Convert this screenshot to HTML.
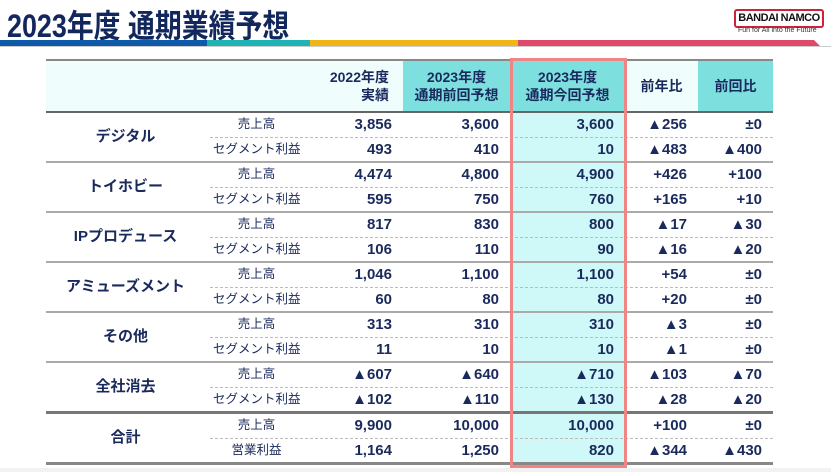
<!DOCTYPE html>
<html><head><meta charset="utf-8">
<style>
body{margin:0;width:831px;height:472px;background:#fff;position:relative;overflow:hidden;font-family:"Liberation Sans","Noto Sans CJK JP",sans-serif;color:#1b2a5c}
.title{position:absolute;left:7px;top:1px;font-size:32px;font-weight:bold;color:#12285c;white-space:nowrap;transform:scaleX(0.84);transform-origin:0 0}
.strip{position:absolute;top:40px;height:6px}
.logo{position:absolute;left:734px;top:9px;width:86px;height:15px;border:2px solid #d0203a;border-radius:3px;font-size:11px;font-weight:bold;color:#111;text-align:center;line-height:15px;letter-spacing:-0.5px}
.tag{position:absolute;left:738px;top:27px;font-size:7px;color:#333}
.bg{position:absolute}
.r{position:absolute;left:46px;width:727px;height:25px;display:flex}
.r div{height:25px;line-height:25px;font-size:15px;font-weight:bold;text-align:right;padding-right:11px;box-sizing:border-box;white-space:nowrap}
.r .s{text-align:center;padding:0 0 0 8px;font-size:12.5px;font-weight:normal}
.g{position:absolute;left:46px;width:159px;height:50px;line-height:50px;text-align:center;font-size:15px;font-weight:bold}
.hl{position:absolute;left:46px;width:727px;height:2px;background:#aaa}
.dl{position:absolute;left:210px;width:563px;height:0;border-top:1px dashed #bbb}
.h{position:absolute;top:61px;height:50px;display:flex;align-items:center;justify-content:center;text-align:center;font-size:14px;font-weight:bold;line-height:18px}
.box{position:absolute;left:510px;top:58px;width:111px;height:404px;border:3px solid #f08585}
.bot{position:absolute;left:0;top:468px;width:831px;height:4px;background:#f2f2f2}
</style></head><body>
<div class="title">2023年度 通期業績予想</div>
<div class="strip" style="left:0;width:207px;background:#0f5aa8"></div>
<div class="strip" style="left:207px;width:103px;background:#1fb3b5"></div>
<div class="strip" style="left:310px;width:208px;background:#f0b516"></div>
<div class="strip" style="left:518px;width:302px;background:#dd4a6a;clip-path:polygon(0 0,98% 0,100% 100%,0 100%)"></div>
<div class="strip" style="left:0;top:46px;width:831px;height:1px;background:#ccc"></div>
<div class="logo">BANDAI NAMCO</div>
<div class="tag">Fun for All into the Future</div>

<div class="bg" style="left:46px;top:61px;width:357px;height:50px;background:#effdfd"></div>
<div class="bg" style="left:403px;top:61px;width:107px;height:50px;background:#7edfdf"></div>
<div class="bg" style="left:510px;top:61px;width:115px;height:50px;background:#7edfdf"></div>
<div class="bg" style="left:625px;top:61px;width:73px;height:50px;background:#effdfd"></div>
<div class="bg" style="left:698px;top:61px;width:75px;height:50px;background:#7edfdf"></div>
<div class="bg" style="left:510px;top:111px;width:115px;height:352px;background:#cff9f9"></div>
<div class="hl" style="top:59px;background:#888"></div>

<div class="h" style="left:300px;width:103px;justify-content:flex-end;padding-right:14px;box-sizing:border-box;text-align:right">2022年度<br>実績</div>
<div class="h" style="left:403px;width:107px">2023年度<br>通期前回予想</div>
<div class="h" style="left:510px;width:115px">2023年度<br>通期今回予想</div>
<div class="h" style="left:625px;width:73px">前年比</div>
<div class="h" style="left:698px;width:75px">前回比</div>

<div class="hl" style="top:111px;background:#666"></div>
<div class="hl" style="top:161px"></div>
<div class="hl" style="top:211px"></div>
<div class="hl" style="top:261px"></div>
<div class="hl" style="top:311px"></div>
<div class="hl" style="top:361px"></div>
<div class="hl" style="top:411px;height:3px;background:#777"></div>
<div class="hl" style="top:462px;height:3px;background:#888"></div>
<div class="dl" style="top:137px"></div>
<div class="dl" style="top:187px"></div>
<div class="dl" style="top:237px"></div>
<div class="dl" style="top:287px"></div>
<div class="dl" style="top:337px"></div>
<div class="dl" style="top:387px"></div>
<div class="dl" style="top:438px"></div>

<div class="g" style="top:112px">デジタル</div>
<div class="g" style="top:162px">トイホビー</div>
<div class="g" style="top:212px">IPプロデュース</div>
<div class="g" style="top:262px">アミューズメント</div>
<div class="g" style="top:312px">その他</div>
<div class="g" style="top:362px">全社消去</div>
<div class="g" style="top:413px">合計</div>

<div id="rows"></div>
<div class="r" style="top:112px"><div style="width:159px"></div><div class="s" style="width:95px">売上高</div><div style="width:103px">3,856</div><div style="width:107px">3,600</div><div style="width:115px">3,600</div><div style="width:73px">▲256</div><div style="width:75px">±0</div></div>
<div class="r" style="top:137px"><div style="width:159px"></div><div class="s" style="width:95px">セグメント利益</div><div style="width:103px">493</div><div style="width:107px">410</div><div style="width:115px">10</div><div style="width:73px">▲483</div><div style="width:75px">▲400</div></div>
<div class="r" style="top:162px"><div style="width:159px"></div><div class="s" style="width:95px">売上高</div><div style="width:103px">4,474</div><div style="width:107px">4,800</div><div style="width:115px">4,900</div><div style="width:73px">+426</div><div style="width:75px">+100</div></div>
<div class="r" style="top:187px"><div style="width:159px"></div><div class="s" style="width:95px">セグメント利益</div><div style="width:103px">595</div><div style="width:107px">750</div><div style="width:115px">760</div><div style="width:73px">+165</div><div style="width:75px">+10</div></div>
<div class="r" style="top:212px"><div style="width:159px"></div><div class="s" style="width:95px">売上高</div><div style="width:103px">817</div><div style="width:107px">830</div><div style="width:115px">800</div><div style="width:73px">▲17</div><div style="width:75px">▲30</div></div>
<div class="r" style="top:237px"><div style="width:159px"></div><div class="s" style="width:95px">セグメント利益</div><div style="width:103px">106</div><div style="width:107px">110</div><div style="width:115px">90</div><div style="width:73px">▲16</div><div style="width:75px">▲20</div></div>
<div class="r" style="top:262px"><div style="width:159px"></div><div class="s" style="width:95px">売上高</div><div style="width:103px">1,046</div><div style="width:107px">1,100</div><div style="width:115px">1,100</div><div style="width:73px">+54</div><div style="width:75px">±0</div></div>
<div class="r" style="top:287px"><div style="width:159px"></div><div class="s" style="width:95px">セグメント利益</div><div style="width:103px">60</div><div style="width:107px">80</div><div style="width:115px">80</div><div style="width:73px">+20</div><div style="width:75px">±0</div></div>
<div class="r" style="top:312px"><div style="width:159px"></div><div class="s" style="width:95px">売上高</div><div style="width:103px">313</div><div style="width:107px">310</div><div style="width:115px">310</div><div style="width:73px">▲3</div><div style="width:75px">±0</div></div>
<div class="r" style="top:337px"><div style="width:159px"></div><div class="s" style="width:95px">セグメント利益</div><div style="width:103px">11</div><div style="width:107px">10</div><div style="width:115px">10</div><div style="width:73px">▲1</div><div style="width:75px">±0</div></div>
<div class="r" style="top:362px"><div style="width:159px"></div><div class="s" style="width:95px">売上高</div><div style="width:103px">▲607</div><div style="width:107px">▲640</div><div style="width:115px">▲710</div><div style="width:73px">▲103</div><div style="width:75px">▲70</div></div>
<div class="r" style="top:387px"><div style="width:159px"></div><div class="s" style="width:95px">セグメント利益</div><div style="width:103px">▲102</div><div style="width:107px">▲110</div><div style="width:115px">▲130</div><div style="width:73px">▲28</div><div style="width:75px">▲20</div></div>
<div class="r" style="top:413px"><div style="width:159px"></div><div class="s" style="width:95px">売上高</div><div style="width:103px">9,900</div><div style="width:107px">10,000</div><div style="width:115px">10,000</div><div style="width:73px">+100</div><div style="width:75px">±0</div></div>
<div class="r" style="top:438px"><div style="width:159px"></div><div class="s" style="width:95px">営業利益</div><div style="width:103px">1,164</div><div style="width:107px">1,250</div><div style="width:115px">820</div><div style="width:73px">▲344</div><div style="width:75px">▲430</div></div>

<div class="box"></div>
<div class="bot"></div>
</body></html>
